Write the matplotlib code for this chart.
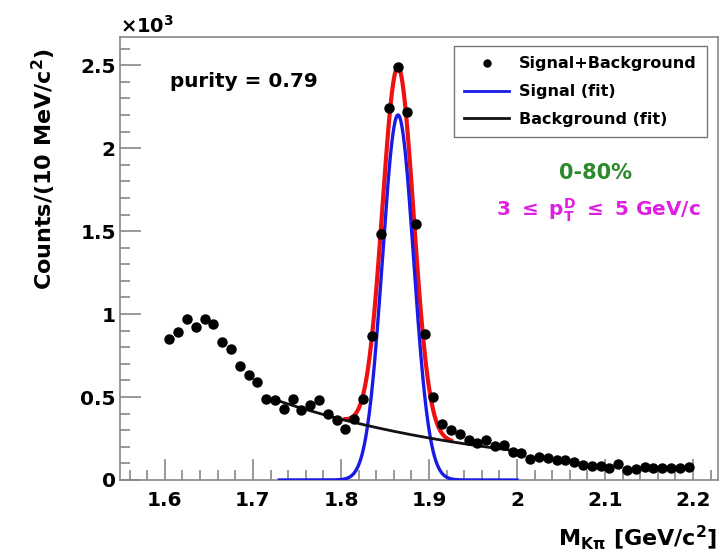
import numpy as np
import matplotlib
matplotlib.use("Agg")
import matplotlib.pyplot as plt
from matplotlib.ticker import MultipleLocator, FixedLocator
from matplotlib.lines import Line2D

plt.rcParams['font.family'] = ['DejaVu Sans']
plt.rcParams['font.weight'] = 'bold'
plt.rcParams['mathtext.fontset'] = 'custom'
plt.rcParams['mathtext.rm'] = 'DejaVu Sans:bold'
plt.rcParams['mathtext.it'] = 'DejaVu Sans:bold'
plt.rcParams['mathtext.bf'] = 'DejaVu Sans:bold'

# ---- data (bin centres in GeV/c^2, counts per 10 MeV/c^2) ----
mass = [1.605, 1.615, 1.625, 1.635, 1.645, 1.655, 1.665, 1.675, 1.685, 1.695,
        1.705, 1.715, 1.725, 1.735, 1.745, 1.755, 1.765, 1.775, 1.785, 1.795,
        1.805, 1.815, 1.825, 1.835, 1.845, 1.855, 1.865, 1.875, 1.885, 1.895,
        1.905, 1.915, 1.925, 1.935, 1.945, 1.955, 1.965, 1.975, 1.985, 1.995,
        2.005, 2.015, 2.025, 2.035, 2.045, 2.055, 2.065, 2.075, 2.085, 2.095,
        2.105, 2.115, 2.125, 2.135, 2.145, 2.155, 2.165, 2.175, 2.185, 2.195]
counts = [850, 890, 970, 920, 970, 940, 830, 790, 690, 630,
          590, 490, 480, 430, 490, 420, 450, 480, 400, 360,
          310, 370, 490, 870, 1480, 2240, 2490, 2220, 1540, 880,
          500, 335, 300, 280, 240, 220, 240, 205, 210, 170,
          160, 125, 137, 131, 120, 120, 106, 90, 86, 84,
          70, 94, 60, 66, 80, 74, 70, 70, 70, 76]

# ---- fit parameters ----
sig_amp = 2200.0      # Gaussian amplitude
sig_mean = 1.8648     # GeV/c^2
sig_sigma = 0.0177    # GeV/c^2
bkg_norm = 475.0      # exponential background at bkg_ref
bkg_ref = 1.73
bkg_slope = 3.7
sig_range = (1.73, 2.0)
bkg_range = (1.73, 2.0)
tot_range = (1.805, 1.925)

purity_text = "purity = 0.79"
cent_text = "0-80%"
pt_text = r"3 $\leq$ p$_{\rm T}^{\rm D}$ $\leq$ 5 GeV/c"
x_ticks = [1.6, 1.7, 1.8, 1.9, 2.0, 2.1, 2.2]
x_ticklabels = ["1.6", "1.7", "1.8", "1.9", "2", "2.1", "2.2"]
y_ticks = [0, 0.5, 1.0, 1.5, 2.0, 2.5]
y_ticklabels = ["0", "0.5", "1", "1.5", "2", "2.5"]


def signal(m):
    return sig_amp * np.exp(-0.5 * ((m - sig_mean) / sig_sigma) ** 2)


def background(m):
    return bkg_norm * np.exp(-bkg_slope * (m - bkg_ref))


fig = plt.figure(figsize=(7.25, 5.54), dpi=100)
ax = fig.add_axes([0.1655, 0.1336, 0.8245, 0.7996])

mass_a = np.array(mass)
y = np.array(counts) / 1000.0

ms = np.linspace(*sig_range, 400)
mb = np.linspace(*bkg_range, 400)
mt = np.linspace(*tot_range, 400)

ax.plot(mt, (signal(mt) + background(mt)) / 1000.0, color='#ee1111', lw=3.0, zorder=3)
ax.plot(ms, signal(ms) / 1000.0, color='#1a1ae6', lw=2.4, zorder=4)
ax.plot(mb, background(mb) / 1000.0, color='#111111', lw=2.0, zorder=4)
ax.plot(mass_a, y, 'o', color='black', ms=6.5, zorder=5)

ax.set_xlim(1.549, 2.228)
ax.set_ylim(0, 2.67)

frame_col = '#888888'
for s in ax.spines.values():
    s.set_color(frame_col)
    s.set_linewidth(1.2)

ax.xaxis.set_major_locator(FixedLocator(x_ticks))
ax.xaxis.set_minor_locator(MultipleLocator(0.02))
ax.yaxis.set_major_locator(FixedLocator(y_ticks))
ax.yaxis.set_minor_locator(MultipleLocator(0.1))
ax.set_xticklabels(x_ticklabels)
ax.set_yticklabels(y_ticklabels)
ax.tick_params(which='both', direction='in', color=frame_col, width=1.2,
               top=False, right=False)
ax.tick_params(which='major', length=15, labelsize=14.5)
ax.tick_params(which='minor', length=7.5)
ax.tick_params(axis='x', which='major', pad=8)
ax.tick_params(axis='y', which='major', pad=3)
for lab in ax.get_xticklabels() + ax.get_yticklabels():
    lab.set_fontweight('bold')

fig.text(0.060, 0.695, r"Counts/(10 MeV/c$^{2}$)", rotation=90, ha='center',
         va='center', fontsize=16, fontweight='bold')
fig.text(0.989, 0.016, r"M$_{\rm K\pi}$ [GeV/c$^{2}$]", ha='right', va='baseline',
         fontsize=16, fontweight='bold')
fig.text(0.166, 0.940, r"$\times$10$^{3}$", ha='left', va='baseline', fontsize=14,
         fontweight='bold')

fig.text(0.2345, 0.843, purity_text, fontsize=14.4, fontweight='bold',
         ha='left', va='baseline')

fig.text(0.821, 0.677, cent_text, color='#2a8a2a',
         fontsize=15, fontweight='bold', ha='center', va='baseline')
fig.text(0.825, 0.610, pt_text, color='#e020e0',
         fontsize=14.4, fontweight='bold', ha='center', va='baseline')

handles = [Line2D([], [], ls='none', marker='o', color='black', ms=5),
           Line2D([], [], color='#1a1ae6', lw=2),
           Line2D([], [], color='#111111', lw=2)]
labels = ["Signal+Background", "Signal (fit)", "Background (fit)"]
leg = fig.legend(handles, labels, loc='upper left', bbox_to_anchor=(0.626, 0.917),
                 frameon=True, fancybox=False, fontsize=11.5, handlelength=2.8,
                 borderpad=0.65, labelspacing=0.8, handletextpad=0.6,
                 borderaxespad=0)
leg.get_frame().set_edgecolor('#555555')
leg.get_frame().set_linewidth(1.0)
for t in leg.get_texts():
    t.set_fontweight('bold')

fig.savefig("out.png", dpi=100)
